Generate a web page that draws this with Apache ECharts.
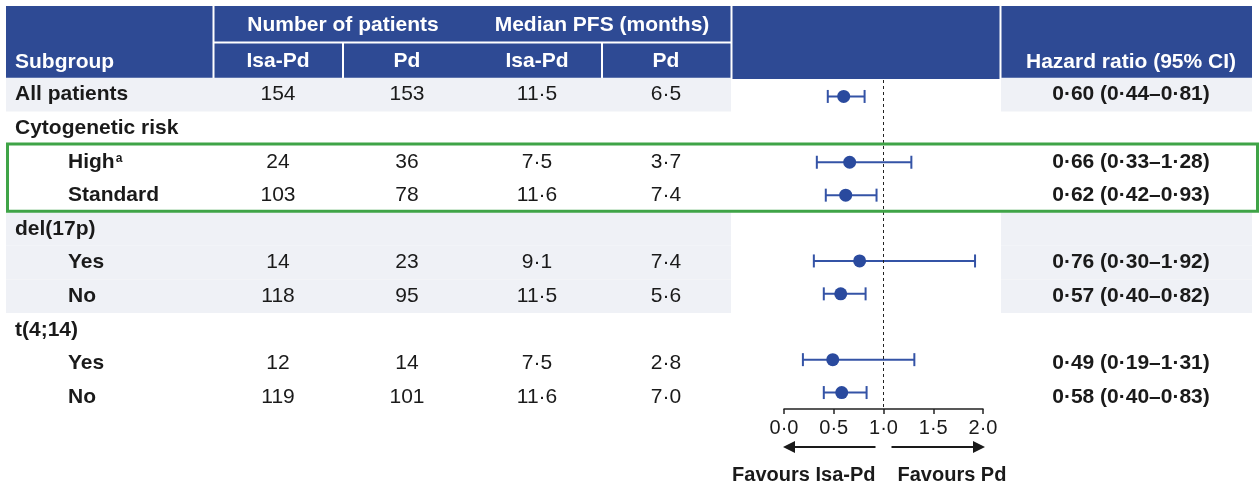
<!DOCTYPE html>
<html>
<head>
<meta charset="utf-8">
<script src="https://cdn.jsdelivr.net/npm/echarts/dist/echarts.min.js"></script>
<style>
  html, body { margin: 0; padding: 0; background: #fff; }
  #main { width: 1259px; height: 488px; }
</style>
</head>
<body>
<div id="main"></div>
<script>
// table data
const subgroups = ["All patients", "Cytogenetic risk", "High", "Standard", "del(17p)", "Yes", "No", "t(4;14)", "Yes", "No"];
const levels = [0, 0, 1, 1, 0, 1, 1, 0, 1, 1];
const notes = ["", "", "a", "", "", "", "", "", "", ""];
const patientsIsaPd = [154, null, 24, 103, null, 14, 118, null, 12, 119];
const patientsPd = [153, null, 36, 78, null, 23, 95, null, 14, 101];
const pfsIsaPd = [11.5, null, 7.5, 11.6, null, 9.1, 11.5, null, 7.5, 11.6];
const pfsPd = [6.5, null, 3.7, 7.4, null, 7.4, 5.6, null, 2.8, 7.0];
const hazardRatio = [0.60, null, 0.66, 0.62, null, 0.76, 0.57, null, 0.49, 0.58];
const ciLow = [0.44, null, 0.33, 0.42, null, 0.30, 0.40, null, 0.19, 0.40];
const ciHigh = [0.81, null, 1.28, 0.93, null, 1.92, 0.82, null, 1.31, 0.83];
const shadedRows = [0, 4, 5, 6];
const boxedRows = [2, 3];

// header + axis text
const headerGroups = ["Number of patients", "Median PFS (months)"];
const headerCols = ["Isa-Pd", "Pd", "Isa-Pd", "Pd"];
const xTicks = [0, 0.5, 1, 1.5, 2];
const favours = ["Favours Isa-Pd", "Favours Pd"];

const FONT = '"Liberation Sans", Arial, sans-serif';
const BLUE = "#2e4a94";
const INK = "#1a1a1a";
const rowIdx = subgroups.map((s, i) => String(i));

function dot(v, d) {
  return v == null ? "" : v.toFixed(d).replace(".", "\u00b7");
}
function hrText(i) {
  if (hazardRatio[i] == null) return "";
  return dot(hazardRatio[i], 2) + " (" + dot(ciLow[i], 2) + "\u2013" + dot(ciHigh[i], 2) + ")";
}

var myChart = echarts.init(document.getElementById("main"));

// column centres in px (table grid x axis runs 0..1259 = page px)
const colX = [278, 407, 537, 666];
const hrX = 1131;

function tableRow(params, api) {
  const i = api.value(0);
  const y = api.coord([0, i])[1];
  const kids = [];
  const lx = levels[i] ? 68 : 15;
  const label = notes[i] ? "{b|" + subgroups[i] + "}{sup|" + notes[i] + "}" : "{b|" + subgroups[i] + "}";
  kids.push({
    type: "text",
    style: {
      x: lx, y: y, text: label, align: "left", verticalAlign: "middle",
      rich: {
        b: { font: "bold 21px " + FONT, fill: INK },
        sup: { font: "bold 12px " + FONT, fill: INK, verticalAlign: "top", padding: [1, 0, 0, 1] }
      }
    }
  });
  const vals = [
    patientsIsaPd[i] == null ? "" : String(patientsIsaPd[i]),
    patientsPd[i] == null ? "" : String(patientsPd[i]),
    dot(pfsIsaPd[i], 1),
    dot(pfsPd[i], 1)
  ];
  vals.forEach((t, c) => {
    kids.push({
      type: "text",
      style: { x: colX[c], y: y, text: t, align: "center", verticalAlign: "middle", font: "21px " + FONT, fill: INK }
    });
  });
  kids.push({
    type: "text",
    style: { x: hrX, y: y, text: hrText(i), align: "center", verticalAlign: "middle", font: "bold 21px " + FONT, fill: INK }
  });
  return { type: "group", children: kids };
}

function shadeRow(params, api) {
  const i = api.value(0);
  const y = api.coord([0, i])[1];
  const h = api.size([0, 1])[1];
  const st = { fill: "#eff1f6" };
  return {
    type: "group",
    children: [
      { type: "rect", shape: { x: 6, y: y - h / 2, width: 725, height: h }, style: st },
      { type: "rect", shape: { x: 1001, y: y - h / 2, width: 251, height: h }, style: st }
    ]
  };
}

function boxRows(params, api) {
  const h = api.size([0, 1])[1];
  const y0 = api.coord([0, api.value(0)])[1] - h / 2;
  const y1 = api.coord([0, api.value(1)])[1] + h / 2;
  return {
    type: "rect",
    shape: { x: 7.5, y: y0 - 1, width: 1250, height: y1 - y0 },
    style: { fill: "none", stroke: "#3fa447", lineWidth: 3 }
  };
}

function errorBar(params, api) {
  const i = api.value(0);
  const a = api.coord([api.value(1), i]);
  const b = api.coord([api.value(2), i]);
  const cap = 6.5;
  const st = { stroke: "#3453a6", lineWidth: 2 };
  return {
    type: "group",
    children: [
      { type: "line", shape: { x1: a[0], y1: a[1], x2: b[0], y2: b[1] }, style: st },
      { type: "line", shape: { x1: a[0], y1: a[1] - cap, x2: a[0], y2: a[1] + cap }, style: st },
      { type: "line", shape: { x1: b[0], y1: b[1] - cap, x2: b[0], y2: b[1] + cap }, style: st }
    ]
  };
}

const hrRows = rowIdx.map((r, i) => i).filter(i => hazardRatio[i] != null);

var option = {
  animation: false,
  grid: [
    { left: 0, top: 77.8, width: 1259, height: 336 },
    { left: 784, top: 80, width: 199, height: 329 }
  ],
  xAxis: [
    { gridIndex: 0, type: "value", min: 0, max: 1259, show: false },
    {
      gridIndex: 1, type: "value", min: 0, max: 2, interval: 0.5,
      splitLine: { show: false },
      axisLine: { show: true, lineStyle: { color: "#222", width: 1.5 } },
      axisTick: { show: true, length: 5, lineStyle: { color: "#222", width: 1.5 } },
      axisLabel: {
        margin: 9, color: INK, fontFamily: FONT, fontSize: 20,
        formatter: v => dot(v, 1)
      }
    }
  ],
  yAxis: [
    { gridIndex: 0, type: "category", data: rowIdx, inverse: true, show: false },
    { gridIndex: 1, type: "category", data: rowIdx, inverse: true, show: false }
  ],
  series: [
    {
      type: "custom", xAxisIndex: 0, yAxisIndex: 0, z: 1, silent: true,
      renderItem: shadeRow,
      data: shadedRows.map(i => [i])
    },
    {
      type: "custom", xAxisIndex: 0, yAxisIndex: 0, z: 3, silent: true,
      renderItem: tableRow,
      data: rowIdx.map((r, i) => [i])
    },
    {
      type: "custom", xAxisIndex: 0, yAxisIndex: 0, z: 6, silent: true,
      renderItem: boxRows,
      data: [boxedRows]
    },
    {
      type: "custom", xAxisIndex: 1, yAxisIndex: 1, z: 4, silent: true,
      renderItem: errorBar,
      encode: { x: [1, 2], y: 0 },
      data: hrRows.map(i => [i, ciLow[i], ciHigh[i]])
    },
    {
      type: "scatter", xAxisIndex: 1, yAxisIndex: 1, z: 5, silent: true,
      symbol: "circle", symbolSize: 13,
      itemStyle: { color: "#2a4a9e", opacity: 1 },
      data: hrRows.map(i => [hazardRatio[i], i]),
      markLine: {
        silent: true, symbol: "none",
        label: { show: false },
        lineStyle: { type: [3, 3], color: "#222", width: 1 },
        data: [{ xAxis: 1 }]
      }
    }
  ]
};

option && myChart.setOption(option);

// header and the "favours" arrows
const x0 = myChart.convertToPixel({ xAxisIndex: 1 }, xTicks[0]);
const x1 = myChart.convertToPixel({ xAxisIndex: 1 }, 1);
const x2 = myChart.convertToPixel({ xAxisIndex: 1 }, xTicks[xTicks.length - 1]);
const ay = 447;
const white = { stroke: "#fff", lineWidth: 2 };
const hdr = (x, y, t, align) => ({
  type: "text", x: x, y: y,
  style: { text: t, font: "bold 21px " + FONT, fill: "#fff", align: align || "center", verticalAlign: "middle" }
});
const arrowStyle = { stroke: "#1a1a1a", lineWidth: 2 };

myChart.setOption({
  graphic: [
    { type: "rect", shape: { x: 6, y: 6, width: 1246, height: 73 }, style: { fill: BLUE } },
    { type: "line", shape: { x1: 213.5, y1: 6, x2: 213.5, y2: 79 }, style: white },
    { type: "line", shape: { x1: 731.5, y1: 6, x2: 731.5, y2: 79 }, style: white },
    { type: "line", shape: { x1: 1000.5, y1: 6, x2: 1000.5, y2: 79 }, style: white },
    { type: "line", shape: { x1: 213, y1: 42.5, x2: 731, y2: 42.5 }, style: white },
    { type: "line", shape: { x1: 343, y1: 42, x2: 343, y2: 79 }, style: white },
    { type: "line", shape: { x1: 602, y1: 42, x2: 602, y2: 79 }, style: white },
    hdr(15, 62, "Subgroup", "left"),
    hdr(343, 25, headerGroups[0]),
    hdr(602, 25, headerGroups[1]),
    hdr(278, 61, headerCols[0]),
    hdr(407, 61, headerCols[1]),
    hdr(537, 61, headerCols[2]),
    hdr(666, 61, headerCols[3]),
    hdr(hrX, 62, "Hazard ratio (95% CI)"),
    { type: "line", shape: { x1: x0 + 4, y1: ay, x2: x1 - 8, y2: ay }, style: arrowStyle },
    { type: "polygon", shape: { points: [[x0 - 1, ay], [x0 + 11, ay - 6], [x0 + 11, ay + 6]] }, style: { fill: "#1a1a1a" } },
    { type: "line", shape: { x1: x1 + 8, y1: ay, x2: x2 - 4, y2: ay }, style: arrowStyle },
    { type: "polygon", shape: { points: [[x2 + 2, ay], [x2 - 10, ay - 6], [x2 - 10, ay + 6]] }, style: { fill: "#1a1a1a" } },
    {
      type: "text", x: x1 - 8, y: 475,
      style: { text: favours[0], font: "bold 20px " + FONT, fill: INK, align: "right", verticalAlign: "middle" }
    },
    {
      type: "text", x: x1 + 14, y: 475,
      style: { text: favours[1], font: "bold 20px " + FONT, fill: INK, align: "left", verticalAlign: "middle" }
    }
  ]
});
</script>
</body>
</html>
